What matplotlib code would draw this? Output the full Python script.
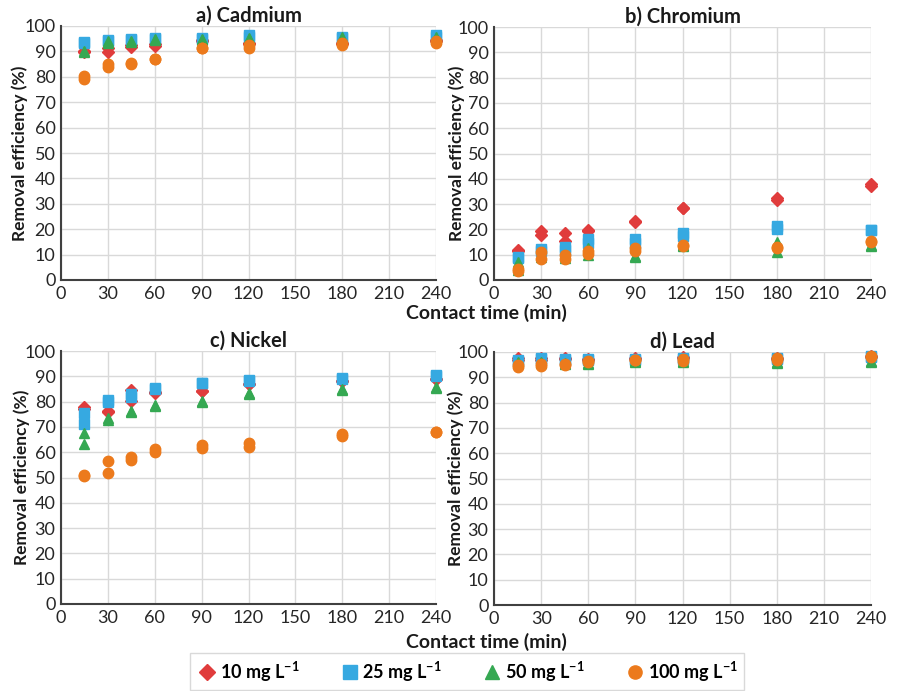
import matplotlib
matplotlib.use("Agg")
import matplotlib.pyplot as plt
from matplotlib.lines import Line2D

plt.rcParams['font.family'] = ['Lato', 'DejaVu Sans']
plt.rcParams['mathtext.fontset'] = 'custom'
plt.rcParams['mathtext.rm'] = 'Lato'
plt.rcParams['mathtext.bf'] = 'Lato:bold'

times = [15, 30, 45, 60, 90, 120, 180, 240]
series_labels = ['10 mg L$^{\\mathbf{-1}}$', '25 mg L$^{\\mathbf{-1}}$',
                 '50 mg L$^{\\mathbf{-1}}$', '100 mg L$^{\\mathbf{-1}}$']

# Cadmium (two replicates per series)
cd_10_r1 = [89.9, 89.6, 91.9, 92.3, 94.0, 93.0, 93.0, 94.0]
cd_10_r2 = [90.3, 91.5, 92.5, 92.8, 94.3, 93.5, 93.5, 94.5]
cd_25_r1 = [93.8, 94.5, 94.9, 95.3, 95.3, 96.3, 95.8, 96.3]
cd_25_r2 = [93.3, 94.0, 94.5, 95.0, 95.0, 95.5, 95.3, 95.8]
cd_50_r1 = [90.3, 94.2, 94.0, 94.8, 94.9, 95.1, 95.5, 95.5]
cd_50_r2 = [89.8, 93.4, 93.6, 94.3, 94.5, 94.7, 95.0, 95.0]
cd_100_r1 = [80.2, 85.0, 85.6, 87.1, 91.5, 92.4, 93.4, 94.2]
cd_100_r2 = [79.1, 84.0, 85.2, 87.0, 91.3, 91.5, 92.4, 93.4]

# Chromium
cr_10_r1 = [11.8, 19.5, 18.7, 19.7, 23.3, 28.6, 32.5, 37.8]
cr_10_r2 = [11.5, 17.8, 15.5, 19.5, 22.8, 28.4, 31.6, 37.1]
cr_25_r1 = [9.2, 12.1, 12.9, 16.1, 16.1, 18.7, 21.3, 19.9]
cr_25_r2 = [8.5, 11.5, 11.8, 14.7, 14.7, 17.4, 20.0, 19.7]
cr_50_r1 = [7.2, 9.9, 9.5, 12.5, 9.5, 13.8, 15.1, 13.8]
cr_50_r2 = [3.9, 9.0, 8.8, 9.9, 9.2, 13.5, 11.2, 13.5]
cr_100_r1 = [4.2, 11.2, 9.9, 11.6, 12.5, 13.8, 12.9, 15.3]
cr_100_r2 = [3.4, 8.2, 8.2, 10.3, 11.6, 13.5, 12.6, 15.0]

# Nickel
ni_10_r1 = [77.7, 76.3, 84.5, 83.8, 84.2, 87.1, 88.2, 89.1]
ni_10_r2 = [77.0, 76.0, 80.2, 83.5, 84.0, 86.8, 88.0, 88.8]
ni_25_r1 = [75.6, 80.6, 82.9, 85.4, 87.5, 88.4, 89.4, 90.4]
ni_25_r2 = [71.1, 79.9, 81.9, 84.8, 87.2, 88.1, 89.1, 90.1]
ni_50_r1 = [67.4, 73.7, 76.2, 78.6, 80.3, 83.4, 84.8, 85.8]
ni_50_r2 = [63.2, 72.7, 76.0, 78.2, 79.9, 83.1, 84.5, 85.2]
ni_100_r1 = [51.0, 56.5, 58.0, 61.1, 62.8, 63.5, 67.0, 68.1]
ni_100_r2 = [50.7, 51.9, 56.9, 60.1, 61.8, 62.2, 66.4, 67.8]

# Lead
pb_10_r1 = [97.5, 97.5, 97.8, 97.3, 97.8, 98.2, 97.8, 98.5]
pb_10_r2 = [97.0, 97.0, 97.3, 97.0, 97.4, 97.8, 97.4, 98.2]
pb_25_r1 = [97.0, 97.8, 97.1, 97.2, 97.4, 97.8, 97.8, 98.3]
pb_25_r2 = [96.5, 97.3, 96.8, 96.8, 97.0, 97.4, 97.4, 98.0]
pb_50_r1 = [96.0, 96.0, 95.7, 95.7, 96.5, 96.5, 96.0, 96.5]
pb_50_r2 = [95.5, 95.6, 95.3, 95.3, 96.2, 96.2, 95.7, 96.2]
pb_100_r1 = [94.7, 95.1, 95.4, 96.5, 97.0, 97.4, 97.8, 98.3]
pb_100_r2 = [94.1, 94.3, 94.7, 96.2, 96.7, 96.5, 97.0, 98.0]

panels = [
    ('a) Cadmium', [(cd_10_r1, cd_10_r2), (cd_25_r1, cd_25_r2), (cd_50_r1, cd_50_r2), (cd_100_r1, cd_100_r2)]),
    ('b) Chromium', [(cr_10_r1, cr_10_r2), (cr_25_r1, cr_25_r2), (cr_50_r1, cr_50_r2), (cr_100_r1, cr_100_r2)]),
    ('c) Nickel', [(ni_10_r1, ni_10_r2), (ni_25_r1, ni_25_r2), (ni_50_r1, ni_50_r2), (ni_100_r1, ni_100_r2)]),
    ('d) Lead', [(pb_10_r1, pb_10_r2), (pb_25_r1, pb_25_r2), (pb_50_r1, pb_50_r2), (pb_100_r1, pb_100_r2)]),
]

colors = ['#E03C3C', '#36A9E1', '#35A852', '#EC7A1C']
markers = ['D', 's', '^', 'o']
msizes = [6.0, 7.5, 7.5, 7.5]

W, H = 900, 691
fig = plt.figure(figsize=(W / 100, H / 100), dpi=100)

# axes rectangles in pixel coords: left, top, right, bottom, ylabel x
rects = [(61, 26, 436, 280, 20), (494, 27, 871, 280, 457),
         (61, 351, 436, 604, 22), (494, 352, 871, 605, 456)]

for (title, data), (l, t, r, b, lx) in zip(panels, rects):
    ax = fig.add_axes([l / W, 1 - b / H, (r - l) / W, (b - t) / H])
    for (r1, r2), c, m, ms in zip(data, colors, markers, msizes):
        ax.plot(times, r1, linestyle='none', marker=m, color=c, markersize=ms, clip_on=False, zorder=3)
        ax.plot(times, r2, linestyle='none', marker=m, color=c, markersize=ms, clip_on=False, zorder=3)
    ax.set_xlim(0, 240)
    ax.set_ylim(0, 100)
    ax.set_xticks(range(0, 241, 30))
    ax.set_yticks(range(0, 101, 10))
    ax.grid(True, color='#d9d9d9', linewidth=1.0)
    ax.set_axisbelow(True)
    for s in ['top', 'right']:
        ax.spines[s].set_visible(False)
    for s in ['left', 'bottom']:
        ax.spines[s].set_color('#404040')
        ax.spines[s].set_linewidth(1.5)
    ax.tick_params(length=0, labelsize=13, pad=4, colors='#262626')
    ax.set_title(title, fontsize=14.5, fontweight='bold', pad=-2, color='#1a1a1a')
    ax.set_ylabel('Removal efficiency (%)', fontsize=12.5, fontweight='bold', color='#1a1a1a',
                  va='center')
    ax.yaxis.set_label_coords((lx - l) / (r - l), 0.5)

fig.text(486 / W, 1 - 313 / H, 'Contact time (min)', ha='center', va='center',
         fontsize=14, fontweight='bold', color='#1a1a1a')
fig.text(486 / W, 1 - 642 / H, 'Contact time (min)', ha='center', va='center',
         fontsize=14, fontweight='bold', color='#1a1a1a')

handles = [Line2D([], [], linestyle='none', marker=m, color=c, markersize=ms + 2)
           for c, m, ms in zip(colors, markers, msizes)]
leg = fig.legend(handles, series_labels, loc='lower center', bbox_to_anchor=(467 / W, 1.0 / H),
                 ncol=4, frameon=True, fancybox=False, edgecolor='#d0d0d0',
                 prop={'weight': 'bold', 'size': 13}, handletextpad=0.1, columnspacing=2.2,
                 borderpad=0.35, handlelength=1.2, borderaxespad=0)
leg.get_frame().set_linewidth(1.0)

fig.savefig('out.png', dpi=100)
